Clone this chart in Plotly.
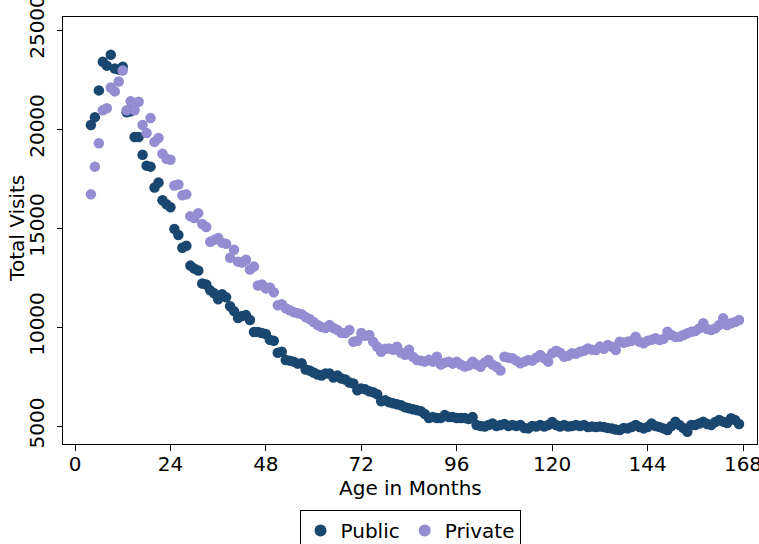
import plotly.graph_objects as go

months = list(range(4, 168))

public_visits = [
    20200, 20600, 21950, 23400, 23200, 23750, 23050, 23000, 23150, 20850,  # 4-13
    20900, 19600, 19600, 18700, 18150, 18100, 17050, 17300, 16400, 16200,  # 14-23
    16050, 14950, 14650, 14000, 14100, 13100, 12950, 12850, 12200, 12150,  # 24-33
    11850, 11700, 11400, 11650, 11500, 11050, 10800, 10450, 10550, 10600,  # 34-43
    10350, 9750, 9750, 9700, 9650, 9350, 9300, 8700, 8750, 8330,           # 44-53
    8300, 8250, 8150, 8170, 7850, 7800, 7700, 7600, 7550, 7650,            # 54-63
    7650, 7450, 7550, 7400, 7350, 7200, 7150, 6800, 6900, 6850,            # 64-73
    6750, 6700, 6600, 6250, 6300, 6200, 6150, 6100, 6050, 5950,            # 74-83
    5900, 5850, 5800, 5750, 5600, 5400, 5450, 5400, 5400, 5550,            # 84-93
    5450, 5450, 5400, 5400, 5400, 5350, 5450, 5050, 5000, 4970,            # 94-103
    5050, 5130, 5000, 5050, 5100, 5000, 5050, 5000, 5050, 4900,            # 104-113
    4880, 5000, 4970, 5050, 4970, 5050, 5200, 5050, 4970, 5050,            # 114-123
    4970, 5000, 5050, 5000, 5050, 4950, 4970, 4950, 4970, 4950,            # 124-133
    4900, 4880, 4820, 4800, 4900, 4880, 4950, 5050, 4950, 4880,            # 134-143
    4950, 5130, 5000, 4950, 4880, 4800, 5000, 5220, 5050, 4900,            # 144-153
    4710, 5050, 5050, 5130, 5220, 5100, 5050, 5200, 5300, 5220,            # 154-163
    5150, 5390, 5300, 5100,                                                # 164-167
]

private_visits = [
    16700, 18100, 19280, 20950, 21050, 22100, 21900, 22400, 22950, 20950,  # 4-13
    21400, 20950, 21380, 20200, 19800, 20550, 19350, 19550, 18750, 18500,  # 14-23
    18450, 17150, 17200, 16650, 16700, 15600, 15500, 15750, 15200, 15050,  # 24-33
    14300, 14400, 14500, 14250, 14200, 13500, 13900, 13300, 13250, 13400,  # 34-43
    12900, 13050, 12100, 12150, 11950, 12000, 11750, 11100, 11150, 10950,  # 44-53
    10850, 10750, 10700, 10650, 10500, 10400, 10250, 10100, 10000, 9950,   # 54-63
    10100, 9950, 9850, 9700, 9700, 9850, 9250, 9300, 9700, 9550,           # 64-73
    9600, 9250, 9000, 8750, 8900, 8920, 8850, 9000, 8700, 8600,            # 74-83
    8850, 8500, 8330, 8300, 8250, 8350, 8250, 8500, 8100, 8200,            # 84-93
    8250, 8150, 8250, 8100, 8000, 8050, 8250, 8100, 7990, 8200,            # 94-103
    8330, 8100, 7990, 7800, 8500, 8450, 8420, 8300, 8170, 8250,            # 104-113
    8330, 8300, 8450, 8590, 8420, 8250, 8670, 8800, 8700, 8500,            # 114-123
    8550, 8670, 8650, 8750, 8800, 8920, 8850, 8840, 9010, 8900,            # 124-133
    9090, 9000, 8840, 9260, 9200, 9260, 9300, 9510, 9250, 9180,            # 134-143
    9300, 9350, 9430, 9340, 9400, 9760, 9600, 9500, 9510, 9600,            # 144-153
    9680, 9760, 9800, 9930, 10190, 9900, 9850, 9930, 10100, 10440,         # 154-163
    10100, 10190, 10250, 10350,                                            # 164-167
]

x_ticks = [0, 24, 48, 72, 96, 120, 144, 168]
y_ticks = [5000, 10000, 15000, 20000, 25000]

PUBLIC_COLOR = "#1a476f"
PRIVATE_COLOR = "#948dd1"
FONT = "DejaVu Sans"
FS = 20

fig = go.Figure()
fig.add_trace(go.Scatter(
    x=months, y=public_visits, mode="markers", name="Public",
    marker=dict(color=PUBLIC_COLOR, size=10.5, line=dict(width=0)),
))
fig.add_trace(go.Scatter(
    x=months, y=private_visits, mode="markers", name="Private",
    marker=dict(color=PRIVATE_COLOR, size=10.5, line=dict(width=0)),
))

fig.update_layout(
    width=759, height=544,
    margin=dict(l=63, r=2, t=17, b=100, pad=0, autoexpand=False),
    paper_bgcolor="white", plot_bgcolor="white",
    font=dict(family=FONT, size=FS, color="black"),
    showlegend=True,
    legend=dict(
        orientation="h", x=0.5, xanchor="center", y=-0.1546, yanchor="top",
        bordercolor="black", borderwidth=1, font=dict(size=FS),
        itemsizing="constant", itemwidth=30, traceorder="normal",
    ),
    xaxis=dict(
        range=[-3.02, 171.52], tickmode="array", tickvals=x_ticks,
        ticks="outside", ticklen=6, tickcolor="black", showgrid=False,
        zeroline=False, showline=True, linecolor="black", linewidth=1, mirror=True,
        tickfont=dict(size=FS), ticklabeloverflow="allow", ticklabelstandoff=-4,
        automargin=False,
    ),
    yaxis=dict(
        range=[4091, 25657], tickmode="array", tickvals=y_ticks,
        ticktext=[str(v) for v in y_ticks], tickangle=-90,
        ticks="outside", ticklen=5, tickcolor="black", showgrid=False,
        zeroline=False, showline=True, linecolor="black", linewidth=1, mirror=True,
        tickfont=dict(size=FS), ticklabeloverflow="allow", ticklabelstandoff=5,
        automargin=False,
    ),
    annotations=[
        dict(text="Age in Months", xref="paper", yref="paper", x=0.5, y=-0.1030,
             xanchor="center", yanchor="middle", showarrow=False,
             font=dict(size=FS)),
        dict(text="Total Visits", xref="paper", yref="paper", x=-0.0663, y=0.506,
             xanchor="center", yanchor="middle", textangle=-90, showarrow=False,
             font=dict(size=FS)),
    ],
)

fig.write_html("out.html")
